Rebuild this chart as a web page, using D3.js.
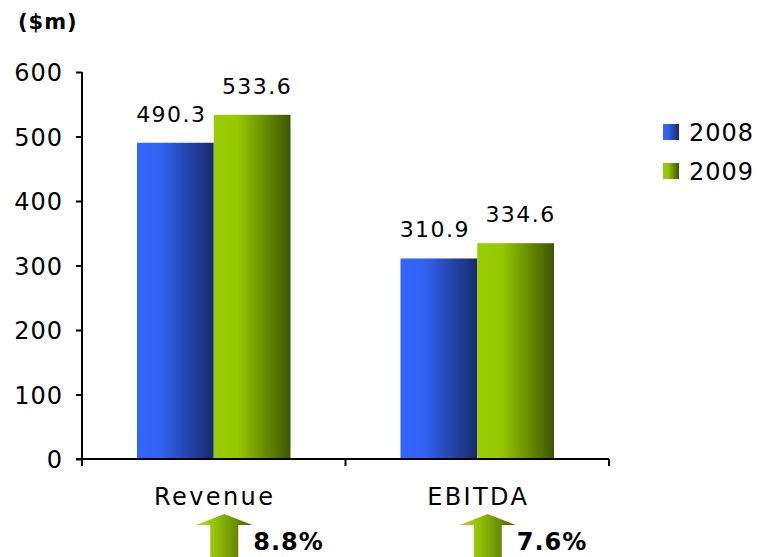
<!DOCTYPE html>
<html><head><meta charset="utf-8">
<script src="https://cdn.jsdelivr.net/npm/d3@7"></script>
<style>body{margin:0;background:#fff}svg{display:block}text{font-family:"DejaVu Sans",Verdana,sans-serif;fill:#000}</style>
</head><body><svg id="c" width="760" height="557"></svg>
<script>
const categories = ["Revenue", "EBITDA"];
const seriesNames = ["2008", "2009"];
const values2008 = [490.3, 310.9];
const values2009 = [533.6, 334.6];
const growthLabels = ["8.8%", "7.6%"];
const yTicks = [0, 100, 200, 300, 400, 500, 600];
const unitLabel = "($m)";

const svg = d3.select("#c");
const defs = svg.append("defs");
function grad(id, stops){
  const g = defs.append("linearGradient").attr("id", id).attr("x1","0").attr("x2","1").attr("y1","0").attr("y2","0");
  stops.forEach(s => g.append("stop").attr("offset", s[0]).attr("stop-color", s[1]));
}
grad("g2008", [["0%","#3366ff"],["30%","#3162f2"],["100%","#172a6a"]]);
grad("g2009", [["0%","#99cc00"],["30%","#97c900"],["100%","#3d5600"]]);
grad("gArrow", [["0%","#b4d630"],["35%","#93bf08"],["100%","#476400"]]);
const fills = ["url(#g2008)", "url(#g2009)"];
const labelShift = [-4, 5];

const x0 = d3.scaleBand().domain(categories).range([82, 609]).padding(0);
const x1 = d3.scaleBand().domain(seriesNames).range([0, x0.bandwidth()]).paddingInner(0).paddingOuter(0.7166);
const y = d3.scaleLinear().domain([0, 600]).range([459, 72]);

const data = categories.map((c, i) => ({cat: c, vals: [values2008[i], values2009[i]]}));

// bars
const groups = svg.append("g").selectAll("g").data(data).join("g")
  .attr("transform", d => `translate(${x0(d.cat)},0)`);
groups.selectAll("rect").data(d => d.vals.map((v, j) => ({s: seriesNames[j], v, j}))).join("rect")
  .attr("x", d => x1(d.s)).attr("width", x1.bandwidth())
  .attr("y", d => y(d.v)).attr("height", d => y(0) - y(d.v))
  .attr("fill", d => fills[d.j]);
groups.selectAll("text.val").data(d => d.vals.map((v, j) => ({s: seriesNames[j], v, j}))).join("text")
  .attr("class","val")
  .attr("x", d => x1(d.s) + x1.bandwidth()/2 + labelShift[d.j])
  .attr("y", d => y(d.v) - 21)
  .attr("text-anchor","middle").style("font-size","22px").style("letter-spacing","1.5px")
  .text(d => d.v.toFixed(1));

// y axis
const yAxis = svg.append("g").attr("transform","translate(82,0)")
  .call(d3.axisLeft(y).tickValues(yTicks).tickSize(6).tickPadding(13).tickFormat(d3.format("d")));
yAxis.select(".domain").attr("stroke","#000").attr("stroke-width",2).attr("d", `M0,${y(600)}V${y(0)}`);
yAxis.selectAll(".tick line").attr("stroke","#000").attr("stroke-width",2);
yAxis.selectAll(".tick text").style("font-size","24px").style("letter-spacing","1px").attr("fill","#000").attr("dy","0.36em");

// x axis
const xAxisG = svg.append("g").attr("transform",`translate(0,${y(0)})`);
xAxisG.append("line").attr("x1",76).attr("x2",609).attr("stroke","#000").attr("stroke-width",2);
const bounds = [x0.range()[0], ...categories.map(c => x0(c) + x0.bandwidth())];
xAxisG.selectAll("line.tk").data(bounds).join("line").attr("class","tk")
  .attr("x1", d => d).attr("x2", d => d).attr("y1", 0).attr("y2", 7)
  .attr("stroke","#000").attr("stroke-width",2);
svg.selectAll("text.cat").data(categories).join("text").attr("class","cat")
  .attr("x", d => x0(d) + x0.bandwidth()/2 + 1).attr("y", 505)
  .attr("text-anchor","middle").style("font-size","24px").style("letter-spacing","2.4px")
  .text(d => d);

// growth arrows
const arrows = svg.selectAll("g.arrow").data(categories).join("g").attr("class","arrow")
  .attr("transform", (d) => `translate(${x0(d) + x0.bandwidth()/2 + 10.5},514)`);
arrows.append("path")
  .attr("d","M0,0 L28,11 L14,11 L14,50 L-14,50 L-14,11 L-28,11 Z")
  .attr("fill","url(#gArrow)");
arrows.append("text").data(growthLabels)
  .attr("x", 29).attr("y", 36)
  .style("font-size","24px").style("font-weight","bold").style("letter-spacing","1px")
  .text(d => d);

// unit label
svg.append("text").attr("x",18).attr("y",29).style("font-size","21px").style("font-weight","bold").style("letter-spacing","1px").text(unitLabel);

// legend
const leg = svg.selectAll("g.leg").data(seriesNames).join("g").attr("class","leg")
  .attr("transform", (d, i) => `translate(663,${124 + i*39})`);
leg.append("rect").attr("width",16).attr("height",16).attr("fill", (d, i) => fills[i]);
leg.append("text").attr("x",26).attr("y",17).style("font-size","24px").style("letter-spacing","1px").text(d => d);
</script></body></html>
